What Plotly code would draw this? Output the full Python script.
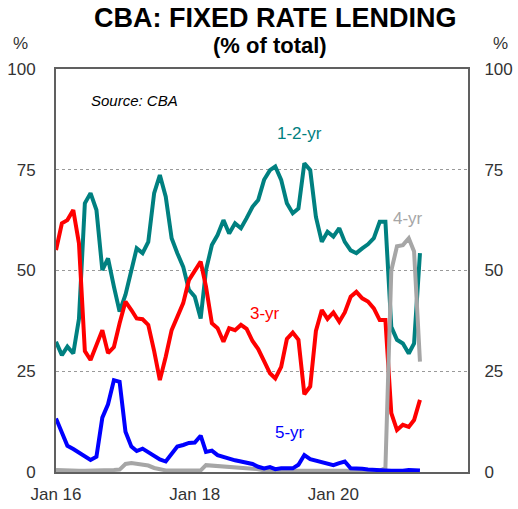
import plotly.graph_objects as go
import pandas as pd

# ---- data (monthly, Jan 2016 - Apr 2021), % of total fixed-rate lending ----
months = pd.date_range("2016-01-01", periods=64, freq="MS")

one_two_yr = [32.3, 29.0, 31.1, 29.4, 38.0, 66.7, 69.2, 65.0, 50.1, 53.0,
              46.0, 39.8, 44.0, 50.1, 55.5, 54.3, 57.1, 69.2, 73.7, 68.3,
              58.0, 54.3, 50.9, 45.2, 43.5, 38.1, 50.1, 56.3, 58.8, 62.5,
              59.2, 61.7, 60.5, 63.0, 65.8, 67.5, 72.5, 74.9, 75.8, 72.5,
              66.7, 64.2, 65.4, 76.6, 74.9, 63.3, 57.1, 59.6, 58.4, 60.5,
              57.1, 55.0, 54.3, 55.5, 56.5, 58.0, 62.1, 62.1, 36.0, 32.8,
              31.9, 29.4, 31.9, 54.3]

three_yr = [55.1, 61.7, 62.5, 65.0, 56.7, 30.0, 27.8, 31.5, 35.2, 29.5,
            31.0, 36.9, 42.3, 40.2, 38.1, 37.9, 36.5, 30.0, 22.8, 28.6,
            35.2, 38.5, 41.9, 47.6, 50.1, 52.2, 46.0, 36.9, 35.7, 32.3,
            35.7, 35.2, 36.5, 35.5, 32.5, 30.5, 27.5, 24.5, 23.2, 26.1,
            33.0, 34.6, 32.8, 19.3, 21.2, 35.0, 40.2, 38.0, 39.6, 37.3,
            39.6, 43.5, 44.7, 43.1, 42.3, 40.6, 37.7, 37.7, 14.6, 10.4,
            11.7, 11.2, 12.9, 17.9]

four_yr = [0.5, 0.4, 0.3, 0.3, 0.3, 0.3, 0.3, 0.4, 0.3, 0.4,
           0.5, 0.6, 2.0, 2.2, 2.0, 1.8, 1.6, 1.0, 0.6, 0.4,
           0.4, 0.4, 0.4, 0.4, 0.4, 0.4, 1.7, 1.6, 1.5, 1.4,
           1.3, 1.2, 1.1, 1.0, 0.9, 0.7, 0.4, 0.3, 0.3, 0.3,
           0.3, 0.3, 0.3, 0.3, 0.3, 0.3, 0.3, 0.3, 0.3, 0.3,
           0.3, 0.3, 0.3, 0.3, 0.3, 0.3, 0.3, 1.0, 50.0, 56.0,
           56.3, 58.0, 54.7, 27.4]

five_yr = [13.3, 10.0, 6.5, 5.7, 4.8, 3.8, 3.0, 3.8, 13.5, 16.8,
           22.8, 22.4, 10.0, 6.3, 5.2, 5.8, 5.0, 4.0, 3.1, 2.6,
           4.6, 6.3, 6.7, 7.2, 7.3, 9.0, 5.0, 5.3, 4.2, 3.7,
           3.3, 2.9, 2.6, 2.4, 2.0, 1.3, 0.9, 1.2, 0.7, 0.9,
           0.9, 0.9, 1.8, 4.2, 3.2, 2.8, 2.4, 2.0, 1.7, 2.2,
           2.6, 0.9, 0.9, 0.8, 0.6, 0.6, 0.5, 0.4, 0.3, 0.2,
           0.3, 0.5, 0.5, 0.4]

y_ticks = [0, 25, 50, 75, 100]
x_tick_dates = ["2016-01-01", "2018-01-01", "2020-01-01"]
x_tick_labels = ["Jan 16", "Jan 18", "Jan 20"]

# ---- layout geometry ----
W, H = 518, 509
L, R, T, B = 56, 468, 69, 472
X_RANGE = ["2016-01-01", "2021-12-10"]


def pxx(x):
    return (x - L) / (R - L)


def pxy(y):
    return (B - y) / (B - T)


TEAL = "#008080"
RED = "#ff0000"
GREY = "#a6a6a6"
BLUE = "#0000ff"
FONT = "Arial, Liberation Sans, sans-serif"
TXT = "#333333"

fig = go.Figure()
fig.add_trace(go.Scatter(x=months, y=one_two_yr, mode="lines", name="1-2-yr",
                         line=dict(color=TEAL, width=4)))
fig.add_trace(go.Scatter(x=months, y=three_yr, mode="lines", name="3-yr",
                         line=dict(color=RED, width=4)))
fig.add_trace(go.Scatter(x=months, y=four_yr, mode="lines", name="4-yr",
                         line=dict(color=GREY, width=4)))
fig.add_trace(go.Scatter(x=months, y=five_yr, mode="lines", name="5-yr",
                         line=dict(color=BLUE, width=4), yaxis="y2"))

axis_line = "#606060"
fig.update_layout(
    width=W, height=H,
    margin=dict(l=L, r=W - R, t=T, b=H - B, pad=0, autoexpand=False),
    paper_bgcolor="white", plot_bgcolor="white",
    showlegend=False,
    font=dict(family=FONT, size=17, color=TXT),
    xaxis=dict(type="date", range=X_RANGE, automargin=False,
               tickmode="array", tickvals=x_tick_dates, ticktext=x_tick_labels,
               ticks="outside", ticklen=6, tickcolor="rgba(0,0,0,0)",
               showgrid=False, zeroline=False,
               showline=True, mirror=True, linecolor=axis_line, linewidth=2,
               tickfont=dict(size=17, color=TXT)),
    xaxis2=dict(type="date", range=X_RANGE, overlaying="x", anchor="y",
                automargin=False,
                tickmode="array", tickvals=x_tick_dates,
                ticks="inside", ticklen=4, tickcolor=axis_line, tickwidth=1,
                showticklabels=False, showgrid=False, zeroline=False,
                showline=False),
    yaxis=dict(range=[0, 100], tickmode="array", tickvals=y_ticks,
               automargin=False,
               ticks="outside", ticklen=15, tickcolor="rgba(0,0,0,0)",
               showgrid=True, gridcolor="#9a9a9a", griddash="dot", gridwidth=1,
               zeroline=False, showline=True, mirror=True,
               linecolor=axis_line, linewidth=2,
               tickfont=dict(size=17, color=TXT)),
    yaxis2=dict(range=[0, 100], overlaying="y", side="right",
                automargin=False,
                tickmode="array", tickvals=y_ticks,
                ticks="outside", ticklen=12, tickcolor="rgba(0,0,0,0)",
                showgrid=False, zeroline=False, showline=False,
                tickfont=dict(size=17, color=TXT)),
)


def note(text, x, y, color="#000000", size=17, bold=False, italic=False):
    if bold:
        text = "<b>" + text + "</b>"
    if italic:
        text = "<i>" + text + "</i>"
    fig.add_annotation(text=text, x=pxx(x), y=pxy(y), xref="paper", yref="paper",
                       xanchor="center", yanchor="middle", showarrow=False,
                       font=dict(family=FONT, size=size, color=color))


note("CBA: FIXED RATE LENDING", 275, 18, size=27, bold=True)
note("(% of total)", 270, 45, size=22, bold=True)
note("%", 20, 44, color=TXT, size=17)
note("%", 500, 44, color=TXT, size=17)
note("Source: CBA", 134, 101, size=15, italic=True)
note("1-2-yr", 299, 133, color=TEAL)
note("3-yr", 265, 313, color=RED)
note("4-yr", 408, 219, color=GREY)
note("5-yr", 290, 432, color=BLUE)

# remove the browser's default 8px page margin so the figure sits at (0, 0)
fig.write_html(
    "out.html",
    config={"displayModeBar": False},
    post_script="document.body.style.margin='0';document.body.style.overflow='hidden';",
)
